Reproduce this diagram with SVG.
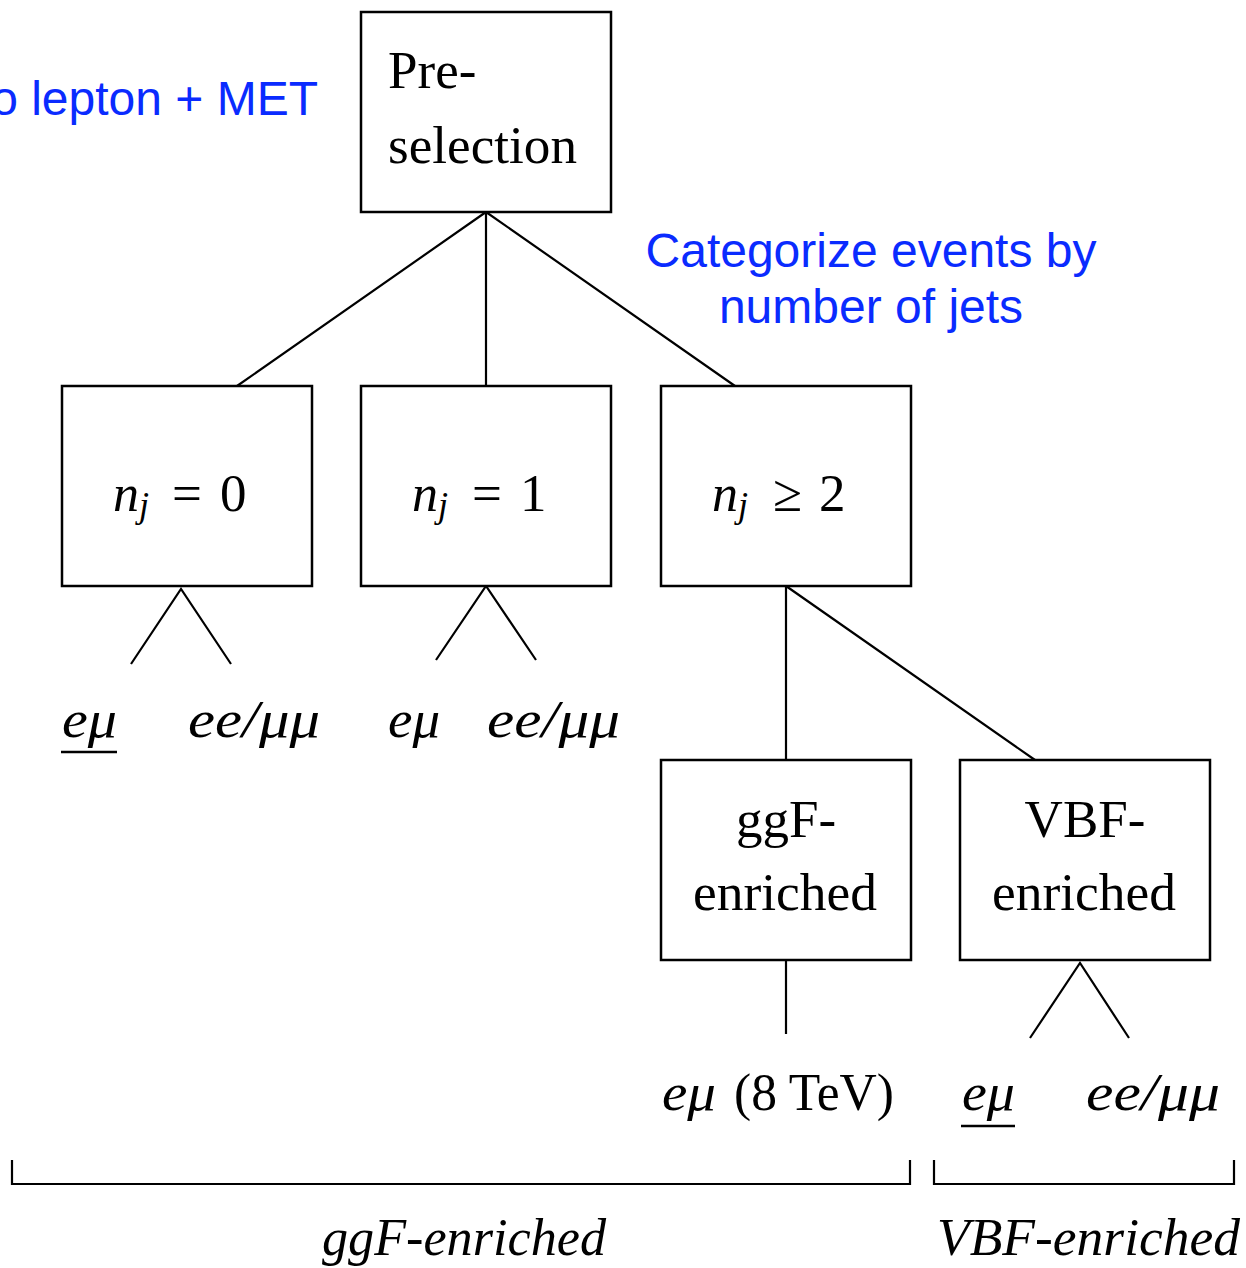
<svg xmlns="http://www.w3.org/2000/svg" width="1246" height="1268" viewBox="0 0 1246 1268">
  <style>
    .box { fill: #ffffff; stroke: #000000; stroke-width: 2.5; }
    .edge { fill: none; stroke: #000000; stroke-width: 2.2; }
    .rm { font-family: "Liberation Serif", "DejaVu Serif", serif; font-size: 53px; fill: #000000; }
    .it { font-family: "Liberation Serif", "DejaVu Serif", serif; font-style: italic; font-size: 52px; fill: #000000; }
    .sub { font-family: "Liberation Serif", "DejaVu Serif", serif; font-style: italic; font-size: 36px; fill: #000000; }
    .note { font-family: "Liberation Sans", Arial, sans-serif; font-size: 48px; fill: #0a2bff; }
  </style>

  <rect width="1246" height="1268" fill="#ffffff"/>

  <!-- blue annotations -->
  <text class="note" x="318" y="115" text-anchor="end">o lepton + MET</text>
  <text class="note" x="871" y="267" text-anchor="middle">Categorize events by</text>
  <text class="note" x="871" y="323" text-anchor="middle">number of jets</text>

  <!-- tree connectors -->
  <g id="connectors">
    <path class="edge" d="M486 212 L237 386 M486 212 L486 386 M486 212 L735 386"/>
    <path class="edge" d="M786 586 L786 760 M786 586 L1035 760"/>
    <path class="edge" d="M131 664 L181 589 L231 664"/>
    <path class="edge" d="M436 660 L486 586 L536 660"/>
    <path class="edge" d="M786 960 L786 1034"/>
    <path class="edge" d="M1030 1038 L1080 963 L1129 1038"/>
    <!-- grouping brackets -->
    <path class="edge" d="M12 1160 L12 1184 L910 1184 L910 1160"/>
    <path class="edge" d="M934 1160 L934 1184 L1234 1184 L1234 1160"/>
  </g>

  <g id="preselection">
    <rect class="box" x="361" y="12" width="250" height="200"/>
    <text class="rm" x="388" y="88">Pre-</text>
    <text class="rm" x="388" y="163" textLength="189" lengthAdjust="spacingAndGlyphs">selection</text>
  </g>

  <g id="nj0">
    <rect class="box" x="62" y="386" width="250" height="200"/>
    <text class="it" x="113" y="511">n</text>
    <text class="sub" x="139" y="517">j</text>
    <text class="rm" x="172" y="511">=</text>
    <text class="rm" x="220" y="511">0</text>
  </g>

  <g id="nj1">
    <rect class="box" x="361" y="386" width="250" height="200"/>
    <text class="it" x="412" y="511">n</text>
    <text class="sub" x="438" y="517">j</text>
    <text class="rm" x="472" y="511">=</text>
    <text class="rm" x="520" y="511">1</text>
  </g>

  <g id="nj2">
    <rect class="box" x="661" y="386" width="250" height="200"/>
    <text class="it" x="712" y="511">n</text>
    <text class="sub" x="738" y="517">j</text>
    <text class="rm" x="773" y="511">≥</text>
    <text class="rm" x="819" y="511">2</text>
  </g>

  <g id="ggf">
    <rect class="box" x="661" y="760" width="250" height="200"/>
    <text class="rm" x="786" y="837" text-anchor="middle">ggF-</text>
    <text class="rm" x="785" y="910" text-anchor="middle" textLength="184" lengthAdjust="spacingAndGlyphs">enriched</text>
  </g>

  <g id="vbf">
    <rect class="box" x="960" y="760" width="250" height="200"/>
    <text class="rm" x="1085" y="837" text-anchor="middle">VBF-</text>
    <text class="rm" x="1084" y="910" text-anchor="middle" textLength="184" lengthAdjust="spacingAndGlyphs">enriched</text>
  </g>

  <!-- channel leaves -->
  <g id="leaf-nj0-emu">
    <text class="it" x="62" y="737" textLength="55" lengthAdjust="spacingAndGlyphs">eμ</text>
    <line x1="61" y1="752" x2="117" y2="752" stroke="#000" stroke-width="2.5"/>
  </g>
  <g id="leaf-nj0-sf">
    <text class="it" x="188" y="737" textLength="132" lengthAdjust="spacingAndGlyphs">ee/μμ</text>
  </g>
  <g id="leaf-nj1-emu">
    <text class="it" x="388" y="737" textLength="52" lengthAdjust="spacingAndGlyphs">eμ</text>
  </g>
  <g id="leaf-nj1-sf">
    <text class="it" x="487" y="737" textLength="133" lengthAdjust="spacingAndGlyphs">ee/μμ</text>
  </g>
  <g id="leaf-ggf-emu">
    <text class="it" x="662" y="1110" textLength="54" lengthAdjust="spacingAndGlyphs">eμ</text>
    <text class="rm" x="734" y="1110" textLength="160" lengthAdjust="spacingAndGlyphs">(8 TeV)</text>
  </g>
  <g id="leaf-vbf-emu">
    <text class="it" x="962" y="1110" textLength="53" lengthAdjust="spacingAndGlyphs">eμ</text>
    <line x1="961" y1="1126" x2="1015" y2="1126" stroke="#000" stroke-width="2.5"/>
  </g>
  <g id="leaf-vbf-sf">
    <text class="it" x="1086" y="1110" textLength="134" lengthAdjust="spacingAndGlyphs">ee/μμ</text>
  </g>

  <!-- bracket labels -->
  <text class="it" x="322" y="1255" textLength="284" lengthAdjust="spacingAndGlyphs">ggF-enriched</text>
  <text class="it" x="937" y="1255" textLength="303" lengthAdjust="spacingAndGlyphs">VBF-enriched</text>
</svg>
